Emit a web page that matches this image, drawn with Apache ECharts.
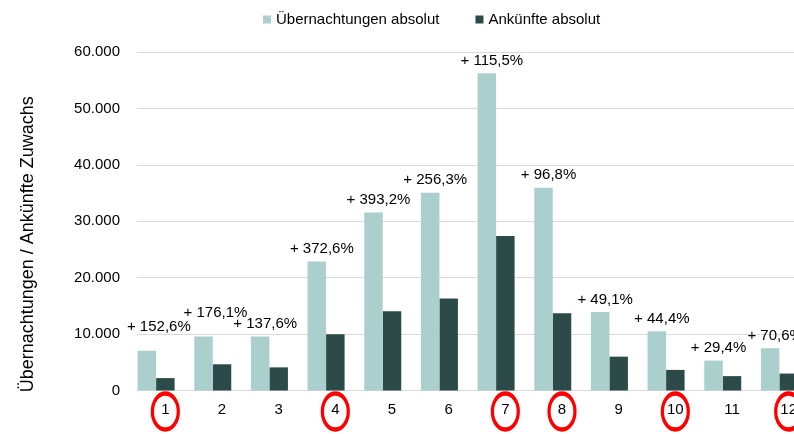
<!DOCTYPE html>
<html>
<head>
<meta charset="utf-8">
<script src="https://cdn.jsdelivr.net/npm/echarts@6/dist/echarts.min.js"></script>
<style>
  html, body { margin: 0; padding: 0; background: #fff; }
  #chart { width: 794px; height: 434px; }
</style>
</head>
<body>
<div id="chart"></div>
<script>
// Monate
const months = ['1', '2', '3', '4', '5', '6', '7', '8', '9', '10', '11', '12'];
// Übernachtungen / Ankünfte
const overnights = [7050, 9550, 9550, 22850, 31550, 35050, 56250, 35950, 13900, 10500, 5300, 7500];
const arrivals = [2200, 4650, 4100, 9950, 14050, 16300, 27400, 13700, 6000, 3650, 2550, 3000];
const growth = ['+ 152,6%', '+ 176,1%', '+ 137,6%', '+ 372,6%', '+ 393,2%', '+ 256,3%',
  '+ 115,5%', '+ 96,8%', '+ 49,1%', '+ 44,4%', '+ 29,4%', '+ 70,6%'];
// rot eingekreiste Monate
const circled = ['1', '4', '7', '8', '10', '12'];
const yMin = 0, yMax = 60000, yStep = 10000;

const font = 'Liberation Sans, Arial, sans-serif';
const fmt = v => String(v).replace(/\B(?=(\d{3})+(?!\d))/g, '.');

const chart = echarts.init(document.getElementById('chart'));
chart.setOption({
  animation: false,
  textStyle: { fontFamily: font },
  legend: {
    data: ['Übernachtungen absolut', 'Ankünfte absolut'],
    left: 258,
    top: 7,
    itemWidth: 8,
    itemHeight: 8,
    itemGap: 36,
    icon: 'rect',
    textStyle: { fontSize: 15, color: '#000', fontFamily: font }
  },
  grid: { left: 137, top: 52, width: 680, bottom: 43.5, outerBoundsMode: 'none' },
  xAxis: {
    type: 'category',
    data: months,
    axisLine: { lineStyle: { color: '#d9d9d9', width: 1 } },
    axisTick: { show: false },
    axisLabel: { fontSize: 15, color: '#000', margin: 12, fontFamily: font }
  },
  yAxis: {
    type: 'value',
    min: yMin,
    max: yMax,
    interval: yStep,
    name: 'Übernachtungen / Ankünfte Zuwachs',
    nameLocation: 'middle',
    nameGap: 100,
    nameTextStyle: { fontSize: 18, color: '#000', fontFamily: font, padding: [0, 46, 0, 0] },
    axisLabel: { fontSize: 15, color: '#000', margin: 17, formatter: fmt, fontFamily: font },
    splitLine: { lineStyle: { color: '#d9d9d9', width: 1 } }
  },
  series: [
    {
      name: 'Übernachtungen absolut',
      type: 'bar',
      barWidth: 18.5,
      barGap: '0%',
      itemStyle: { color: '#abcfcc' },
      data: overnights.map((v, i) => ({
        value: v,
        label: i < 2 ? { distance: 16, offset: [12, 0] } : {}
      })),
      label: {
        show: true,
        position: 'top',
        distance: 5,
        offset: [5, 0],
        fontSize: 15,
        color: '#000',
        fontFamily: font,
        formatter: p => growth[p.dataIndex]
      },
      z: 3
    },
    {
      name: 'Ankünfte absolut',
      type: 'bar',
      barWidth: 18.5,
      barGap: '0%',
      itemStyle: { color: '#2c4b48' },
      data: arrivals
    },
    {
      // leere Serie, damit die Balkenpaare wie im Original links vom Label sitzen
      name: 'pad',
      type: 'bar',
      barWidth: 18.5,
      barGap: '0%',
      data: []
    }
  ]
});

const ellipses = circled.map(m => ({
  type: 'circle',
  x: chart.convertToPixel({ xAxisIndex: 0 }, m),
  y: 411.5,
  scaleX: 0.72,
  shape: { cx: 0, cy: 0, r: 18 },
  style: { fill: 'none', stroke: '#ff0000', lineWidth: 4.5, strokeNoScale: true },
  z: 10
}));
chart.setOption({ graphic: ellipses });
</script>
</body>
</html>
